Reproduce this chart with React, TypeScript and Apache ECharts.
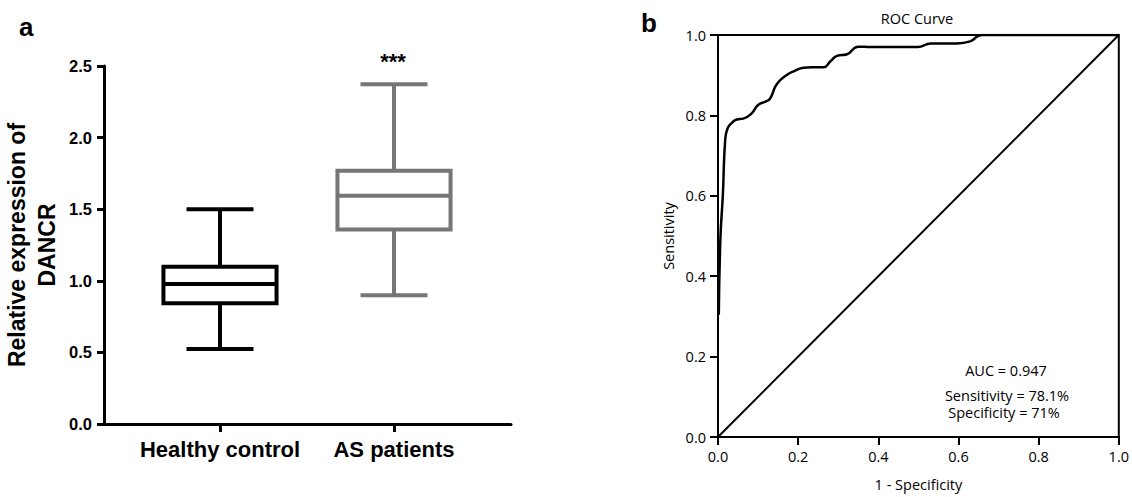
import React, { useEffect, useRef } from "react";
import * as echarts from "echarts";

// ---- Panel a: box plot data ----
const groups = ["Healthy control", "AS patients"];
const whiskerMin = [0.524, 0.899];
const q1 = [0.843, 1.359];
const median = [0.978, 1.594];
const q3 = [1.098, 1.769];
const whiskerMax = [1.5, 2.372];
const boxColors = ["#000000", "#767676"];
const leftAxisTitle = "Relative expression of\nDANCR";
const significance = "***";

// ---- Panel b: ROC curve data ----
const fpr = [0.002, 0.006, 0.012, 0.018, 0.024, 0.034, 0.047, 0.063, 0.084, 0.1, 0.12, 0.13, 0.147, 0.175, 0.19, 0.21, 0.235, 0.264, 0.28, 0.297, 0.322, 0.35, 0.383, 0.498, 0.531, 0.596, 0.629, 0.658, 1.0];
const tpr = [0.304, 0.494, 0.6, 0.74, 0.768, 0.781, 0.79, 0.792, 0.805, 0.826, 0.835, 0.842, 0.878, 0.903, 0.91, 0.918, 0.92, 0.92, 0.934, 0.948, 0.952, 0.971, 0.97, 0.97, 0.979, 0.979, 0.984, 1.0, 1.0];
const diagX = [0, 1];
const diagY = [0, 1];
const rocTitle = "ROC Curve";
const aucLines = ["AUC = 0.947", "Sensitivity = 78.1%", "Specificity = 71%"];

const arial = "Arial, 'Liberation Sans', sans-serif";
const myriad = "'Open Sans', 'Noto Sans', sans-serif";

export default function App() {
  const ref = useRef<HTMLDivElement>(null);

  useEffect(() => {
    if (!ref.current) return;
    const chart = echarts.init(ref.current, undefined, { renderer: "svg" });

    const boxData = groups.map((_, i) => [i, whiskerMin[i], q1[i], median[i], q3[i], whiskerMax[i]]);

    const renderBox = (params: any, api: any) => {
      const idx = api.value(0);
      const color = boxColors[params.dataIndex];
      const band = api.size([1, 0])[0];
      const boxW = band * 0.65;
      const capW = band * 0.385;
      const cx = api.coord([idx, api.value(3)])[0];
      const yMin = api.coord([idx, api.value(1)])[1];
      const yQ1 = api.coord([idx, api.value(2)])[1];
      const yMed = api.coord([idx, api.value(3)])[1];
      const yQ3 = api.coord([idx, api.value(4)])[1];
      const yMax = api.coord([idx, api.value(5)])[1];
      const st = { stroke: color, lineWidth: 4, fill: null };
      return {
        type: "group",
        children: [
          { type: "line", shape: { x1: cx, y1: yQ3, x2: cx, y2: yMax }, style: st },
          { type: "line", shape: { x1: cx, y1: yQ1, x2: cx, y2: yMin }, style: st },
          { type: "line", shape: { x1: cx - capW / 2, y1: yMax, x2: cx + capW / 2, y2: yMax }, style: st },
          { type: "line", shape: { x1: cx - capW / 2, y1: yMin, x2: cx + capW / 2, y2: yMin }, style: st },
          { type: "rect", shape: { x: cx - boxW / 2, y: yQ3, width: boxW, height: yQ1 - yQ3 }, style: { stroke: color, lineWidth: 4, fill: "#fff" } },
          { type: "line", shape: { x1: cx - boxW / 2, y1: yMed, x2: cx + boxW / 2, y2: yMed }, style: st },
        ],
      };
    };

    const option: any = {
      animation: false,
      backgroundColor: "#fff",
      grid: [
        { left: 104, top: 66, width: 407, height: 358 },
        { left: 133, top: 66, width: 348, height: 358 },
        { left: 718, top: 35, width: 406, height: 405, show: true, borderColor: "#000", borderWidth: 2, backgroundColor: "transparent" },
      ],
      xAxis: [
        {
          gridIndex: 0, type: "value", min: 0, max: 1,
          axisLine: { show: true, lineStyle: { color: "#000", width: 3 } },
          axisTick: { show: false }, axisLabel: { show: false }, splitLine: { show: false },
        },
        {
          gridIndex: 1, type: "category", data: groups,
          axisLine: { show: false },
          axisTick: { show: true, alignWithLabel: true, length: 8, lineStyle: { color: "#000", width: 3 } },
          axisLabel: { interval: 0, hideOverlap: false, fontSize: 22, fontWeight: "bold", color: "#000", margin: 14, fontFamily: arial },
          splitLine: { show: false },
        },
        {
          gridIndex: 2, type: "value", min: 0, max: 1, interval: 0.2,
          axisLine: { show: true, lineStyle: { color: "#000", width: 2 } },
          axisTick: { show: true, length: 8, lineStyle: { color: "#000", width: 2 } },
          axisLabel: { formatter: (v: number) => v.toFixed(1), fontSize: 14.5, color: "#000", margin: 12, fontFamily: myriad },
          splitLine: { show: false },
          name: "1 - Specificity", nameLocation: "middle", nameGap: 40,
          nameTextStyle: { fontSize: 14.5, color: "#000", fontFamily: myriad },
        },
      ],
      yAxis: [
        {
          gridIndex: 0, type: "value", min: 0, max: 2.5, interval: 0.5,
          axisLine: { show: true, lineStyle: { color: "#000", width: 3 } },
          axisTick: { show: true, length: 7, lineStyle: { color: "#000", width: 3 } },
          axisLabel: { formatter: (v: number) => v.toFixed(1), fontSize: 16.5, fontWeight: "bold", color: "#000", margin: 12, fontFamily: arial },
          splitLine: { show: false },
          name: leftAxisTitle, nameLocation: "middle", nameGap: 42,
          nameTextStyle: { fontSize: 23, fontWeight: "bold", color: "#000", fontFamily: arial, lineHeight: 30, align: "center" },
        },
        { gridIndex: 1, type: "value", min: 0, max: 2.5, show: false },
        {
          gridIndex: 2, type: "value", min: 0, max: 1, interval: 0.2,
          axisLine: { show: true, lineStyle: { color: "#000", width: 2 } },
          axisTick: { show: true, length: 8, lineStyle: { color: "#000", width: 2 } },
          axisLabel: { formatter: (v: number) => v.toFixed(1), fontSize: 14.5, color: "#000", margin: 12, fontFamily: myriad },
          splitLine: { show: false },
          name: "Sensitivity", nameLocation: "middle", nameGap: 42,
          nameTextStyle: { fontSize: 14.5, color: "#000", fontFamily: myriad },
        },
      ],
      series: [
        {
          type: "custom", xAxisIndex: 1, yAxisIndex: 1,
          data: boxData, encode: { x: 0, y: [1, 2, 3, 4, 5] },
          renderItem: renderBox, silent: true,
        },
        {
          type: "line", xAxisIndex: 2, yAxisIndex: 2,
          data: fpr.map((x, i) => [x, tpr[i]]),
          smooth: 0.5, symbol: "none",
          lineStyle: { color: "#000", width: 2.5 },
        },
        {
          type: "line", xAxisIndex: 2, yAxisIndex: 2,
          data: diagX.map((x, i) => [x, diagY[i]]),
          symbol: "none", lineStyle: { color: "#000", width: 2 },
        },
      ],
      graphic: [
        { type: "text", left: 19, top: 14, style: { text: "a", font: `bold 26px ${arial}`, fill: "#000" } },
        { type: "text", left: 641, top: 10, style: { text: "b", font: `bold 26px ${arial}`, fill: "#000" } },
        { type: "text", x: 393, y: 61, style: { text: significance, font: `bold 22px ${arial}`, fill: "#000", align: "center", verticalAlign: "middle" } },
        { type: "text", x: 917, y: 18, style: { text: rocTitle, font: `14.5px ${myriad}`, fill: "#000", align: "center", verticalAlign: "middle" } },
        { type: "text", x: 1006, y: 370, style: { text: aucLines[0], font: `14.5px ${myriad}`, fill: "#000", align: "center", verticalAlign: "middle" } },
        { type: "text", x: 1007, y: 395, style: { text: aucLines[1], font: `14.5px ${myriad}`, fill: "#000", align: "center", verticalAlign: "middle" } },
        { type: "text", x: 1004, y: 412, style: { text: aucLines[2], font: `14.5px ${myriad}`, fill: "#000", align: "center", verticalAlign: "middle" } },
      ],
    };

    chart.setOption(option);
    return () => chart.dispose();
  }, []);

  return <div ref={ref} style={{ position: "fixed", left: 0, top: 0, width: 1132, height: 497 }} />;
}
